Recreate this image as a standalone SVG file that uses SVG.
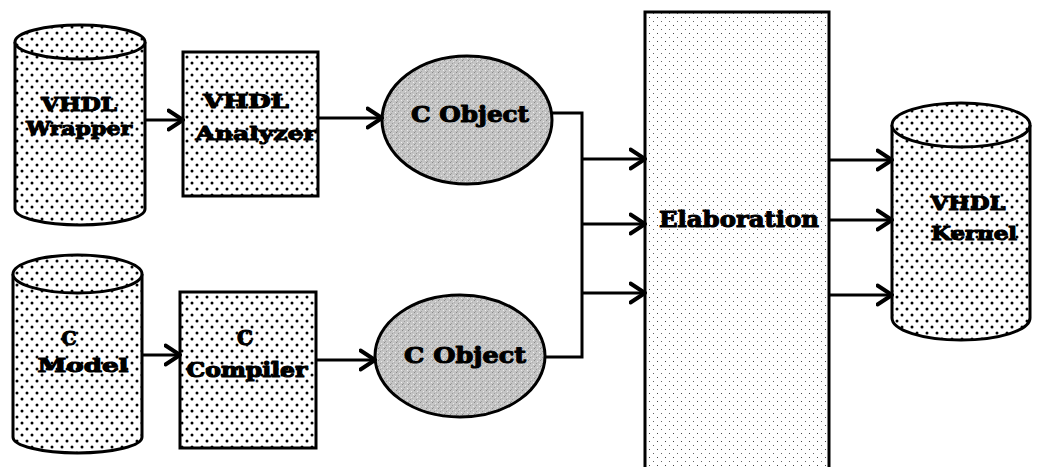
<svg xmlns="http://www.w3.org/2000/svg" width="1038" height="467" viewBox="0 0 1038 467">
  <defs>
    <!-- coarse staggered dots for stores and tool boxes -->
    <pattern id="dots" width="10" height="12" patternUnits="userSpaceOnUse">
      <rect width="10" height="12" fill="#fff"/>
      <circle cx="2" cy="3" r="1.5" fill="#000"/>
      <circle cx="7" cy="9" r="1.5" fill="#000"/>
    </pattern>
    <!-- fine light speckle for the elaboration block -->
    <pattern id="fine" width="8" height="8" patternUnits="userSpaceOnUse">
      <rect width="8" height="8" fill="#fff"/>
      <rect x="1" y="1" width="1" height="1" fill="#444"/>
      <rect x="5" y="5" width="1" height="1" fill="#666"/>
    </pattern>
    <!-- grey grain for object files -->
    <pattern id="grain" width="6" height="6" patternUnits="userSpaceOnUse">
      <rect width="6" height="6" fill="#c4c4c4"/>
      <rect x="0" y="0" width="1" height="1" fill="#8a8a8a"/>
      <rect x="3" y="1" width="1" height="1" fill="#e8e8e8"/>
      <rect x="2" y="3" width="1" height="1" fill="#999"/>
      <rect x="5" y="4" width="1" height="1" fill="#eee"/>
      <rect x="1" y="5" width="1" height="1" fill="#a0a0a0"/>
      <rect x="4" y="2" width="1" height="1" fill="#b0b0b0"/>
    </pattern>
    <marker id="arrow" viewBox="0 0 18 24" refX="16.5" refY="12" markerWidth="18" markerHeight="24" markerUnits="userSpaceOnUse" orient="auto">
      <path d="M2,2.5 L16.5,12 L2,21.5" fill="none" stroke="#000" stroke-width="4" stroke-linecap="round" stroke-linejoin="round"/>
    </marker>
  </defs>
  <style>
    .outline { stroke: #000; stroke-width: 3; }
    .store { fill: url(#dots); }
    .tool { fill: url(#dots); }
    .obj { fill: url(#grain); }
    .elab { fill: url(#fine); }
    .lbl { font-family: "DejaVu Serif", "Liberation Serif", serif; font-weight: bold; fill: #000; stroke: #000; stroke-width: 1.1; stroke-linejoin: round; text-anchor: middle; }
    .wire { fill: none; stroke: #000; stroke-width: 3; }
    .arr { marker-end: url(#arrow); }
  </style>

  <rect width="1038" height="467" fill="#fff"/>

  <!-- elaboration block (runs off the bottom edge) -->
  <g id="elaboration">
    <rect class="elab outline" x="645" y="12" width="184" height="470"/>
    <text class="lbl" x="739" y="227" font-size="22" textLength="160" lengthAdjust="spacingAndGlyphs">Elaboration</text>
  </g>

  <g id="vhdl-wrapper">
    <path class="store outline" d="M15,42 L15,209 A65,16 0 0 0 145,209 L145,42"/>
    <ellipse class="store outline" cx="80" cy="42" rx="65" ry="17"/>
    <text class="lbl" x="79" y="111" font-size="19" textLength="76" lengthAdjust="spacingAndGlyphs">VHDL</text>
    <text class="lbl" x="79" y="135" font-size="19" textLength="106" lengthAdjust="spacingAndGlyphs">Wrapper</text>
  </g>

  <g id="vhdl-analyzer">
    <rect class="tool outline" x="183" y="52" width="135" height="144"/>
    <text class="lbl" x="246" y="108" font-size="19" textLength="86" lengthAdjust="spacingAndGlyphs">VHDL</text>
    <text class="lbl" x="256" y="140" font-size="19" textLength="121" lengthAdjust="spacingAndGlyphs">Analyzer</text>
  </g>

  <g id="c-object-1">
    <ellipse class="obj outline" cx="467" cy="120" rx="85" ry="64"/>
    <text class="lbl" x="470" y="122" font-size="23" textLength="118" lengthAdjust="spacingAndGlyphs">C Object</text>
  </g>

  <g id="c-model">
    <path class="store outline" d="M13,274 L13,437 A64.5,16 0 0 0 142,437 L142,274"/>
    <ellipse class="store outline" cx="77.5" cy="274" rx="64.5" ry="19"/>
    <text class="lbl" x="69" y="345" font-size="19">C</text>
    <text class="lbl" x="83" y="372" font-size="19" textLength="91" lengthAdjust="spacingAndGlyphs">Model</text>
  </g>

  <g id="c-compiler">
    <rect class="tool outline" x="180" y="292" width="136" height="156"/>
    <text class="lbl" x="245" y="345" font-size="20">C</text>
    <text class="lbl" x="247" y="377" font-size="20" textLength="121" lengthAdjust="spacingAndGlyphs">Compiler</text>
  </g>

  <g id="c-object-2">
    <ellipse class="obj outline" cx="460" cy="356" rx="85" ry="61"/>
    <text class="lbl" x="465" y="363" font-size="23" textLength="122" lengthAdjust="spacingAndGlyphs">C Object</text>
  </g>

  <g id="vhdl-kernel">
    <path class="store outline" d="M892,125 L892,318 A69,22 0 0 0 1030,318 L1030,125"/>
    <ellipse class="store outline" cx="961" cy="125" rx="69" ry="22"/>
    <text class="lbl" x="968" y="210" font-size="18" textLength="75" lengthAdjust="spacingAndGlyphs">VHDL</text>
    <text class="lbl" x="974" y="240" font-size="18" textLength="86" lengthAdjust="spacingAndGlyphs">Kernel</text>
  </g>

  <g id="connectors">
    <path class="wire arr" d="M145,120 L183,120"/>
    <path class="wire arr" d="M318,118 L382,118"/>
    <path class="wire arr" d="M142,355 L180,355"/>
    <path class="wire arr" d="M316,360 L375,360"/>
    <!-- object files merge into one bus -->
    <path class="wire" d="M552,113 L582,113 L582,357 L545,357"/>
    <path class="wire arr" d="M582,159 L645,159"/>
    <path class="wire arr" d="M582,224 L645,224"/>
    <path class="wire arr" d="M582,293 L645,293"/>
    <path class="wire arr" d="M829,160 L892,160"/>
    <path class="wire arr" d="M829,220 L892,220"/>
    <path class="wire arr" d="M829,295 L892,295"/>
  </g>
</svg>
